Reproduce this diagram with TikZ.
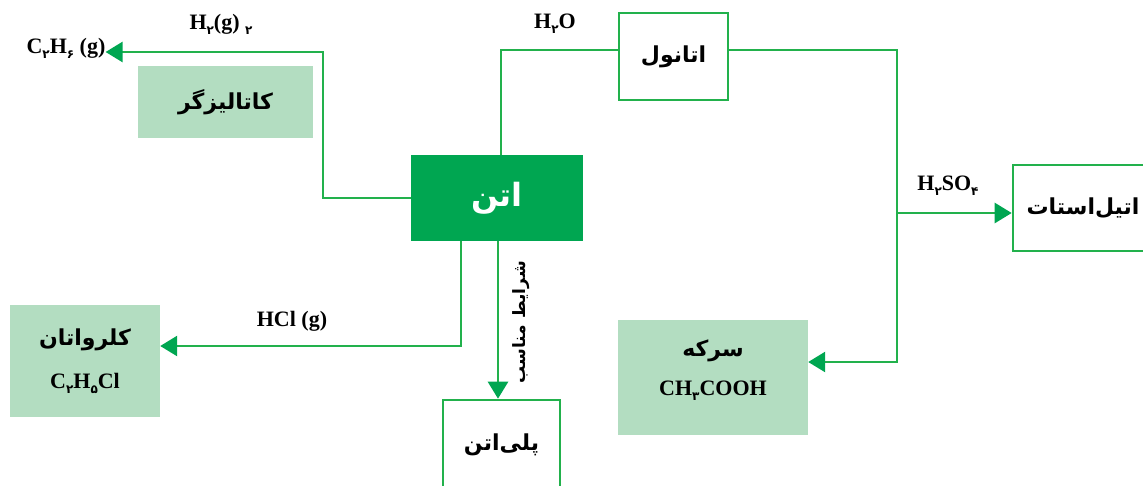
\documentclass[tikz,border=0pt]{standalone}
\usepackage{fontspec}
\setmainfont{Liberation Serif}
\newfontfamily\fafont[Script=Arabic]{DejaVu Sans}
\TeXXeTstate=1
\usetikzlibrary{arrows.meta,calc}
\definecolor{lineg}{RGB}{34,177,76}
\definecolor{darkg}{RGB}{0,166,81}
\definecolor{lightg}{RGB}{179,221,193}
\newcommand{\fsub}[1]{\raisebox{-5pt}{\fontsize{12}{12}\selectfont\fafont\bfseries #1}}
\newcommand{\latn}[1]{{\rmfamily\bfseries #1}}
\begin{document}
\begin{tikzpicture}[x=1pt,y=-1pt,
  conn/.style={draw=lineg,line width=2.6pt},
  arr/.style={conn,-{Triangle[length=17pt,width=20pt,color=darkg]}},
  wbox/.style={draw=lineg,line width=2.6pt,fill=white,inner sep=0pt,align=center},
  lbox/.style={fill=lightg,inner sep=0pt,align=center},
  dbox/.style={fill=darkg,inner sep=0pt,text=white},
  lbl/.style={font=\fontsize{22}{24}\selectfont\bfseries,inner sep=0pt},
  fatxt/.style={font=\fafont\bfseries\fontsize{22}{34}\selectfont}
]
\useasboundingbox (0,0) rectangle (1143,485);
\begin{scope}
\clip (0,0) rectangle (1143,485);
% boxes
\node[dbox,minimum width=172pt,minimum height=86pt,font=\fafont\bfseries\fontsize{32}{34}\selectfont] (ethene) at (497,198) {\beginR اتن\endR};
\node[wbox,fatxt,minimum width=109pt,minimum height=87pt] (ethanol) at (673.5,56.5) {\raisebox{3pt}{\beginR اتانول\endR}};
\node[wbox,fatxt,minimum width=140pt,minimum height=86pt] (eacet) at (1083,208) {\beginR اتیل^^^^200cاستات\endR};
\node[lbox,minimum width=190pt,minimum height=115pt] (sirke) at (713,377.5) {};
\node[fatxt,align=center,inner sep=0pt] (sirketxt) at (713,370) {\beginR سرکه\endR\\[5pt] \latn{CH\fsub{۳}COOH}};
\node[lbox,fatxt,minimum width=175pt,minimum height=72pt] (cat) at (225.5,102) {\beginR کاتالیزگر\endR};
\node[lbox,fatxt,minimum width=150pt,minimum height=112pt] (chloro) at (85,361) {\beginR کلرواتان\endR\\[9pt] \latn{C\fsub{۲}H\fsub{۵}Cl}};
\node[wbox,fatxt,minimum width=117pt,minimum height=90pt] (poly) at (501.5,445) {\raisebox{3pt}{\beginR پلی^^^^200cاتن\endR}};
% free text
\node[lbl] (c2h6) at (66,48) {C\fsub{۲}H\fsub{۶} (g)};
% bend points
\coordinate (b1) at (323,198);
\coordinate (b2) at (323,52);
\coordinate (b3) at (501,50);
\coordinate (b4) at (897,50);
\coordinate (b5) at (897,362);
\coordinate (b6) at (897,213);
\coordinate (b7) at (461,346);
\coordinate (b8) at (498,300);
% connectors
\draw[arr] (ethene.west) -- (b1) -- (b2) -- (b2 -| c2h6.east);
\draw[conn] (ethene.north -| b3) -- (b3) -- (ethanol.west |- b3);
\draw[arr] (ethanol.east |- b4) -- (b4) -- (b5) -- (sirke.east |- b5);
\draw[arr] (b6) -- (eacet.west |- b6);
\draw[arr] (ethene.south -| b7) -- (b7) -- (chloro.east |- b7);
\draw[arr] (ethene.south -| b8) -- (poly.north -| b8);
% labels
\node[lbl] (lh2) at (221,24) {H\fsub{۲}(g) \fsub{۲}};
\node[lbl] (lh2o) at (555,24) {H\fsub{۲}O};
\node[lbl] (lh2so4) at (948,186) {H\fsub{۲}SO\fsub{۴}};
\node[lbl] (lhcl) at (292,321) {HCl (g)};
\node[font=\fafont\bfseries\fontsize{17}{20}\selectfont,rotate=90,inner sep=0pt] (lcond) at (521,322) {\beginR شرایط مناسب\endR};
\end{scope}
\end{tikzpicture}
\end{document}
